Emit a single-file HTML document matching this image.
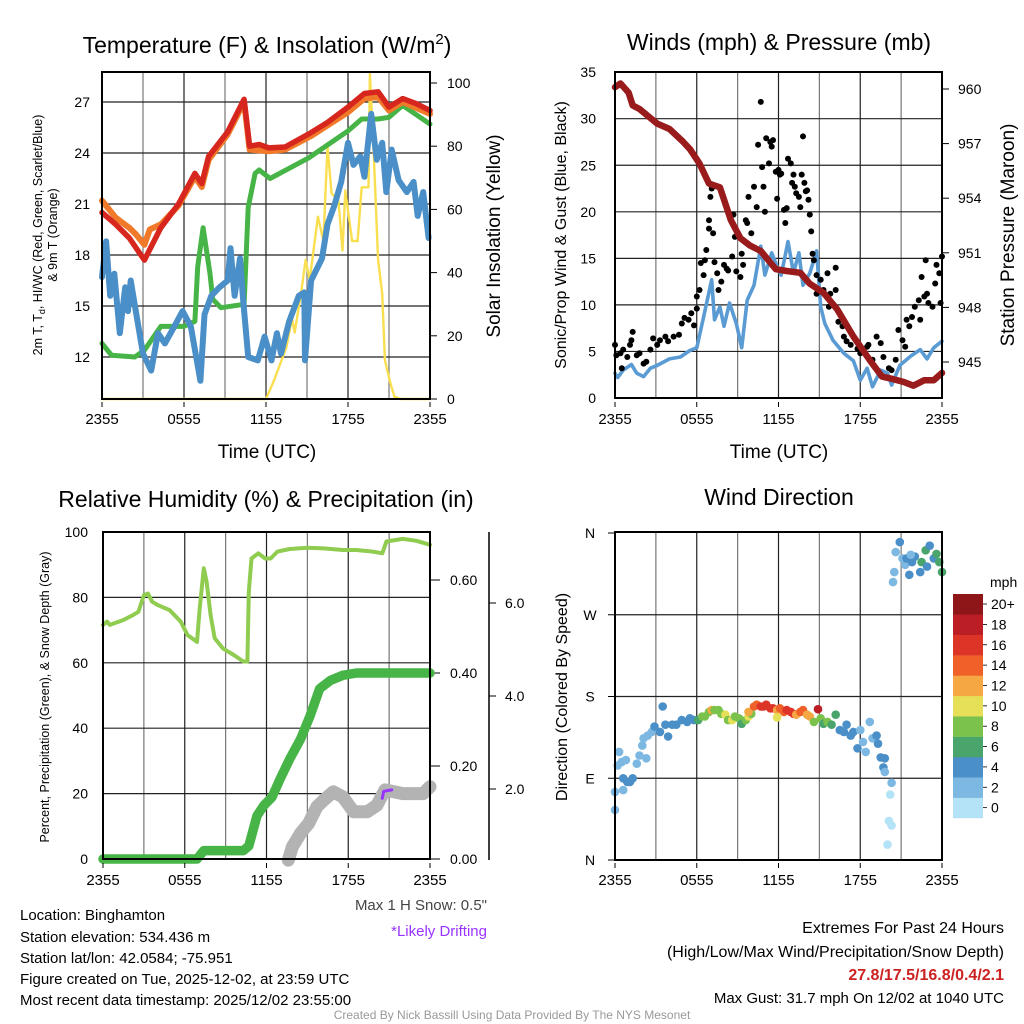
<!DOCTYPE html>
<html><head><meta charset="utf-8"><style>
body{margin:0;background:#fff;}
svg{display:block;font-family:"Liberation Sans",Arial,sans-serif;}
</style></head><body>
<svg id="c" width="1024" height="1024" viewBox="0 0 1024 1024" xmlns="http://www.w3.org/2000/svg"></svg>
<script>
// ---------- Panel 1 data (hours since 2355) ----------
const redH=[0,1,2,3.1,4.3,5.6,6.8,7.3,7.8,9.2,10.4,10.8,11.5,12.2,13.4,15.3,16.5,18,19.2,20.2,21,22,23,24];
const redV=[20.5,19.8,19.0,17.7,19.6,21.0,22.8,22.2,23.8,25.25,27.16,24.4,24.5,24.3,24.35,25.2,25.8,26.7,27.5,27.6,26.7,27.2,26.9,26.5];
const orgH=[0,1,2,2.5,3.1,3.5,4.3,5.6,6.8,7.3,7.8,9.2,10.4,10.8,12.2,13.4,15.3,18,19.2,20.2,21,22,24];
const orgV=[21.2,20.2,19.6,19.2,18.6,19.5,19.8,20.9,22.6,22.0,23.6,25.1,27.0,24.2,24.1,24.2,25.0,26.4,27.2,27.3,26.5,27.0,26.3];
const grnH=[0,0.7,2.4,3.1,4.3,6,6.8,7,7.4,7.9,8.1,8.7,10.4,10.7,11.2,11.5,12.3,15.1,18,19,20.2,21,22,24];
const grnV=[12.8,12.1,12.0,12.4,13.8,13.8,14.1,17.3,19.6,16.9,15.4,14.9,15.1,20.8,22.8,23.0,22.5,23.7,25.3,26.0,26.0,26.1,26.8,25.7];
const bluH=[0,0.3,0.6,0.9,1.3,1.7,1.9,2.1,2.6,3.0,3.6,4.1,4.6,5.3,5.9,6.5,7.2,7.5,8,8.6,9.2,9.4,9.7,10.1,10.3,10.7,11.4,11.9,12.4,12.8,13.1,13.7,14.4,14.8,14.85,15.3,16.1,16.5,17,17.5,18,18.4,18.9,19.2,19.7,20.1,20.5,20.8,21.2,21.7,22.3,22.8,23.1,23.5,23.9];
const bluV=[16.7,18.8,15.6,16.9,13.4,16.1,14.7,16.5,14.1,12.2,11.2,13.4,12.8,13.8,14.7,13.8,10.6,14.5,15.6,16.1,16.5,18.4,15.6,17.8,15.6,12.0,11.8,13.2,11.8,13.4,12.2,14.1,15.6,15.8,11.8,16.5,17.8,19.8,20.9,22.3,24.6,23.3,23.8,22.6,26.3,23.6,24.6,21.7,24.2,22.4,21.7,22.3,20.3,21.7,19.0];
const solH=[0,12,12.6,13.5,13.9,14.1,14.6,14.9,15.2,15.8,16.2,16.5,16.8,17.3,17.6,17.8,18.3,18.7,19,19.5,19.6,19.9,20.2,20.5,20.7,21.1,21.4,21.9,24];
const solV=[0,0,6,16.5,25.6,21,34.5,44,37.7,57.7,50,80,65,63,47,66,50,50,67,67,103,75.6,44,33.5,12.3,5,0.7,0,0];
const tTicks=[12,15,18,21,24,27];
const sTicks=[0,20,40,60,80,100];
const xLabels=["2355","0555","1155","1755","2355"];
// ---------- Panel 2 data ----------
const presH=[0,0.4,1,1.3,1.8,3.1,4,5,5.5,6.2,6.9,7.7,8.5,9.2,9.9,10.7,11.8,12.6,13.6,14.3,15.3,16.3,17.5,18.7,19.6,20.2,21.2,21.9,22.7,23.4,24];
const presV=[960.1,960.3,959.8,959.1,958.9,958.1,957.8,957.1,956.7,955.9,954.8,954.6,952.8,951.8,951.4,951.1,950.1,950,949.9,949.3,948.8,947.9,946.4,945.1,944.2,944.1,943.9,943.7,944.0,944.0,944.4];
const windH=[0,0.2,0.6,1.2,1.6,2.1,2.6,3.1,4,4.8,5.5,6,6.5,7.1,7.3,7.7,8,8.4,8.9,9.3,9.7,10.2,10.7,11,11.5,11.9,12.2,12.7,13.1,13.5,13.8,14.3,14.8,15.1,15.4,16,16.8,17.5,18,18.5,18.9,19.5,20,20.3,20.9,21.7,22.4,22.9,23.4,24];
const windV=[2.65,2.2,3.0,3.6,2.65,2.3,3.2,3.5,4.2,4.4,5.1,5.4,8.7,12.7,8.4,9.8,7.7,10.2,8.0,5.4,10.5,12.1,16.3,13.2,15.6,14.1,13.2,16.8,13.4,15.6,12.1,13.4,15.8,9.8,8.0,6.2,4.8,4.0,1.9,3.2,1.2,3.0,2.65,1.4,3.5,4.5,5.2,4.2,5.4,6.1];
const gustH=[0,0.1,0.4,0.5,0.6,0.9,1.1,1.2,1.3,1.6,1.8,2.1,2.3,2.6,2.8,3.1,3.3,3.7,3.9,4.3,4.7,4.9,5.1,5.4,5.6,5.8,6.0,6.0,6.2,6.3,6.5,6.6,6.7,6.9,6.9,7.0,7.1,7.2,7.3,7.5,7.6,7.8,8.0,8.2,8.3,8.6,8.7,8.8,8.9,9.2,9.3,9.4,9.6,9.7,9.8,10.0,10.2,10.4,10.5,10.7,10.8,10.9,11.0,11.1,11.3,11.4,11.5,11.6,11.8,11.9,12.0,12.1,12.2,12.4,12.5,12.6,12.7,12.9,13.0,13.1,13.2,13.3,13.5,13.6,13.7,13.8,13.9,14.0,14.1,14.2,14.3,14.4,14.5,14.6,14.8,14.8,15.1,15.3,15.6,15.7,15.8,16.2,16.2,16.4,16.7,16.8,17.0,17.3,17.5,17.8,18.0,18.2,18.5,18.6,18.9,19.2,19.5,19.7,20.1,20.3,20.6,20.8,21.1,21.3,21.4,21.6,21.8,22.0,22.3,22.4,22.5,22.7,22.8,22.9,23.0,23.3,23.5,23.6,23.8,23.9,24.0];
const gustV=[5.7,4.6,4.8,3.2,5.2,4.4,5.7,6.2,7.1,4.6,4.8,3.7,3.9,5.2,6.4,5.7,6.2,6.6,6.1,6.6,6.8,8.0,8.6,8.4,9.1,7.8,9.6,10.9,11.6,14.5,13.2,14.8,15.9,18.2,19.1,21.6,22.5,17.7,14.6,13.4,11.6,12.5,14.3,13.9,13.7,15.2,19.7,17.3,13.6,13.0,15.5,14.3,19.1,18.8,21.6,17.7,22.7,20.5,27.2,31.8,24.8,22.7,20.0,27.9,25.2,27.5,27.0,27.7,24.3,21.4,24.5,24.0,24.1,20.2,18.8,20.4,25.7,25.2,23.1,24.0,22.7,22.0,21.6,20.5,24.0,28.1,23.1,22.2,22.3,21.3,19.7,17.9,15.5,14.8,13.2,11.2,12.7,11.6,13.4,9.8,11.2,14.0,11.6,8.2,7.7,6.6,6.1,5.7,6.6,5.3,4.8,5.2,5.5,5.7,4.1,6.6,5.9,4.4,3.2,3.0,4.1,7.3,6.2,5.5,8.4,7.7,8.7,9.8,10.5,8.4,13.0,10.9,14.8,11.2,10.2,9.8,12.3,14.3,13.4,10.2,15.2];
const wTicks=[0,5,10,15,20,25,30,35];
const pTicks=[945,948,951,954,957,960];
// ---------- Panel 3 data ----------
const rhH=[0,0.3,0.5,1.5,2.2,2.6,3.0,3.3,3.6,4.0,4.9,5.7,6.2,6.9,7.1,7.4,7.6,7.9,8.2,8.8,9.6,10.3,10.6,10.7,10.9,11.4,11.9,12.3,12.8,13.7,15.0,16.2,17.6,18.6,19.8,20.5,20.8,22.0,23.0,24];
const rhV=[71.6,72.6,71.6,73.1,74.6,75.6,80.7,81.2,78.7,77.7,76.1,72.6,68.5,66.4,76.6,88.9,84.8,74.6,67.5,64.4,62.4,60.4,60.4,81.7,91.9,93.5,91.9,91.9,94.0,94.8,95.2,95.0,94.5,94.5,94.0,93.5,97.1,97.9,97.3,96.1];
const prH=[0,6.9,7.4,10.3,10.7,11.3,11.8,12.4,13.0,13.7,14.5,15.2,15.9,16.7,17.6,18.6,24];
const prV=[0,0,0.018,0.018,0.028,0.093,0.115,0.133,0.172,0.215,0.258,0.308,0.366,0.384,0.395,0.4,0.4];
const snH=[13.6,13.9,14.5,15.1,15.7,16.2,16.9,17.6,18.4,19.4,20.1,20.7,22.0,23.5,24];
const snV=[0.47,0.76,1.05,1.26,1.62,1.76,1.94,1.83,1.51,1.51,1.65,1.98,1.9,1.9,2.05];
const drH=[20.5,20.6,21.2];
const drV=[1.8,1.95,1.98];
const rhTicks=[0,20,40,60,80,100];
const prTicks=["0.00","0.20","0.40","0.60"];
const snTicks=["2.0","4.0","6.0"];
// ---------- Panel 4 data ----------
const dirH=[0,0,0.2,0.3,0.5,0.6,0.9,1.1,1.3,0.6,0.8,1.6,1.8,2.0,2.1,2.3,2.4,2.7,2.9,3.3,3.5,3.7,3.9,4.2,4.5,4.9,5.3,5.5,5.8,6.1,6.4,6.6,6.9,7.1,7.3,7.6,7.8,8.1,8.3,8.6,8.8,9.1,9.3,9.6,9.8,10.0,9.8,10.2,10.4,10.7,10.9,11.1,11.4,11.6,11.9,11.9,12.1,12.4,12.6,12.9,13.1,13.3,13.6,13.8,14.1,14.3,14.6,14.9,15.1,15.3,15.6,15.9,16.2,16.5,16.8,17.0,17.3,17.5,17.8,18.0,18.2,18.4,18.7,18.9,19.2,19.3,19.5,19.7,19.8,19.8,20.3,20.2,20.1,20.3,20.0,20.4,20.5,20.6,20.9,21.1,21.3,21.6,21.8,22.0,22.4,22.5,22.8,22.9,23.1,23.4,23.6,23.8,24.0,21.4,21.7];
const dirV=[55,75,104,119,108,90,86,86,90,77,110,106,115,126,134,112,137,141,147,141,169,149,136,149,149,154,152,156,154,154,158,158,163,165,165,165,161,160,154,154,158,156,150,154,158,161,163,169,171,169,169,171,167,167,165,157,167,163,165,163,161,160,163,165,160,158,152,166,156,150,152,149,160,143,141,149,137,141,123,143,130,119,152,134,137,128,113,102,97,112,85,72,43,38,17,306,317,339,350,332,325,314,328,334,317,328,341,323,346,332,337,328,317,332,336];
const dirS=[2,2,2,2,2,4,4,4,4,2,2,2,2,2,2,2,2,2,4,4,4,4,4,4,4,4,4,4,4,6,8,8,8,12,8,8,8,10,8,10,8,8,6,8,10,8,12,14,14,16,16,16,16,16,12,10,14,14,16,16,16,12,14,14,12,12,8,18,8,6,8,6,6,4,4,4,4,4,4,2,2,2,2,2,4,4,4,4,2,4,2,0,0,0,0,2,2,2,4,2,2,4,4,4,4,6,6,4,4,4,6,6,6,4,2];
const cbLabels=["0","2","4","6","8","10","12","14","16","18","20+"];
const cbColors=["#b4e2f6","#7db8e2","#4a8fc7","#4aa56d","#7bc24c","#e6df58","#f5a744","#ef6129","#dc3528","#bb1e25","#8e1619"];
const dirLabels=["N","E","S","W","N"];

// ---------- axis functions ----------
const X1=h=>102+h/24*328, YT=t=>102+(27-t)*17, YS=s=>399-s*3.16;
const X2=h=>615+h/24*327, YW=w=>398-w*9.31, YP=p=>89+(960-p)*18.2;
const X3=h=>103+h/24*327, YR=r=>859-r*3.27, YPr=p=>859-p*465, YSn=s=>882-s*46.5;
const YD=d=>860-d*0.9083;
const svg=document.getElementById('c');
const NS='http://www.w3.org/2000/svg';
function el(tag,attrs,parent){const e=document.createElementNS(NS,tag);for(const k in attrs)e.setAttribute(k,attrs[k]);(parent||svg).appendChild(e);return e;}
function txt(s,x,y,size,anchor,extra){const t=el('text',Object.assign({x:x,y:y,'font-size':size,'text-anchor':anchor||'middle',fill:'#000'},extra||{}));t.textContent=s;return t;}
function line(x1,y1,x2,y2,c,w){return el('line',{x1,y1,x2,y2,stroke:c,'stroke-width':w});}
function poly(hs,vs,fx,fy,color,w,name){const pts=hs.map((h,i)=>fx(h).toFixed(1)+','+fy(vs[i]).toFixed(1)).join(' ');const p=el('polyline',{points:pts,fill:'none',stroke:color,'stroke-width':w,'stroke-linejoin':'round','stroke-linecap':'round'});


return p;}
function vgrid(x0,x1,y0,y1){for(let i=1;i<8;i++){const x=x0+(x1-x0)*i/8;line(x,y0,x,y1,i%2?'#777':'#222',1.2);}}
function frame(x0,y0,x1,y1,name){const r=el('rect',{x:x0,y:y0,width:x1-x0,height:y1-y0,fill:'none',stroke:'#000','stroke-width':2});

}
function xlab(fx,y){xLabels.forEach((s,i)=>{const t=txt(s,fx(i*6),y,15);


line(fx(i*6),y-17,fx(i*6),y-22,'#000',1);});}

// ===== Panel 1 =====
vgrid(102,430,72,399);
tTicks.forEach(t=>{line(102,YT(t),430,YT(t),'#222',1.2);const l=txt(String(t),90,YT(t)+5,14,'end');

});
sTicks.forEach(s=>{line(430,YS(s),437,YS(s),'#000',1);const l=txt(String(s),447,YS(s)+5,14,'start');

});
poly(solH,solV,X1,YS,'#f9df4f',2.4,'insolation-line');
poly(grnH,grnV,X1,YT,'#46b446',5,'dewpoint-line');
poly(bluH,bluV,X1,YT,'#4a8fc7',6,'windchill-line');
poly(orgH,orgV,X1,YT,'#f07a2a',6,'9m-temp-line');
poly(redH,redV,X1,YT,'#d7261e',5.5,'2m-temp-line');
frame(102,72,430,399,'temperature-plot-frame');
xlab(X1,424);

// ===== Panel 2 =====
vgrid(615,942,72,398);
wTicks.forEach(w=>{if(w>0&&w<35)line(615,YW(w),942,YW(w),'#222',1.2);const l=txt(String(w),596,YW(w)+5,14,'end');

});
pTicks.forEach(p=>{line(942,YP(p),949,YP(p),'#000',1);const l=txt(String(p),958,YP(p)+5,14,'start');

});
poly(windH,windV,X2,YW,'#5a9bd4',3.6,'sustained-wind-line');
gustH.forEach((h,i)=>{const c=el('circle',{cx:X2(h).toFixed(1),cy:YW(gustV[i]).toFixed(1),r:3,fill:'#000'});

});
poly(presH,presV,X2,YP,'#9a1b1b',6.5,'pressure-line');
frame(615,72,942,398,'wind-plot-frame');
xlab(X2,424);

// ===== Panel 3 =====
vgrid(103,430,532,859);
rhTicks.forEach(r=>{if(r>0&&r<100)line(103,YR(r),430,YR(r),'#222',1.2);const l=txt(String(r),88,YR(r)+5,14,'end');

});
prTicks.forEach(s=>{const y=YPr(parseFloat(s));line(430,y,440,y,'#000',1);const l=txt(s,450,y+5,14,'start');

});
line(489,532,489,860,'#000',1.5);
snTicks.forEach(s=>{const y=YSn(parseFloat(s));line(489,y,496,y,'#000',1);const l=txt(s,505,y+5,14,'start');

});
poly(snH,snV,X3,YSn,'#b3b3b3',13,'snow-depth-line');
poly(drH,drV,X3,YSn,'#9933ff',3,'drifting-snow-line');
poly(prH,prV,X3,YPr,'#46b446',9.5,'precipitation-line');
poly(rhH,rhV,X3,YR,'#8fcc50',4,'relative-humidity-line');
frame(103,532,430,859,'humidity-plot-frame');
xlab(X3,885);

// ===== Panel 4 =====
vgrid(615,942,532,860);
dirLabels.forEach((s,i)=>{const y=YD(i*90);if(i>0&&i<4)line(615,y,942,y,'#222',1.2);line(608,y,615,y,'#000',1);const l=txt(s,590,y+5,14);

});
dirH.forEach((h,i)=>{const c=el('circle',{cx:X2(h).toFixed(1),cy:YD(dirV[i]).toFixed(1),r:4.3,fill:cbColors[Math.min(10,Math.round(dirS[i]/2))]});

});
frame(615,532,942,860,'direction-plot-frame');
xlab(X2,885);
// colorbar
cbColors.forEach((c,i)=>{const y=818-(i+1)*20.36;const r=el('rect',{x:953,y:y.toFixed(1),width:30,height:20.6,fill:c});


line(983,y+10,987,y+10,'#000',0.8);
const l=txt(cbLabels[i],991,y+15,14,'start');

});
</script>
<svg width="1024" height="1024" style="position:absolute;left:0;top:0;font-family:'Liberation Sans',Arial,sans-serif">
<text x="267" y="53" font-size="23" text-anchor="middle">Temperature (F) &amp; Insolation (W/m<tspan dy="-9" font-size="15">2</tspan><tspan dy="9">)</tspan></text>
<text x="779" y="50" font-size="23" text-anchor="middle">Winds (mph) &amp; Pressure (mb)</text>
<text x="266" y="507" font-size="23" text-anchor="middle">Relative Humidity (%) &amp; Precipitation (in)</text>
<text x="779" y="505" font-size="23" text-anchor="middle">Wind Direction</text>
<text x="267" y="458" font-size="19" text-anchor="middle">Time (UTC)</text>
<text x="779" y="458" font-size="19" text-anchor="middle">Time (UTC)</text>
<text transform="translate(42,235) rotate(-90)" font-size="12.5" text-anchor="middle">2m T, T<tspan font-size="9" dy="3">d</tspan><tspan dy="-3">, HI/WC (Red, Green, Scarlet/Blue)</tspan></text>
<text transform="translate(57,235) rotate(-90)" font-size="12.5" text-anchor="middle">&amp; 9m T (Orange)</text>
<text transform="translate(500,236) rotate(-90)" font-size="19" text-anchor="middle">Solar Insolation (Yellow)</text>
<text transform="translate(566,235) rotate(-90)" font-size="16" text-anchor="middle">Sonic/Prop Wind &amp; Gust (Blue, Black)</text>
<text transform="translate(1014,235) rotate(-90)" font-size="19" text-anchor="middle">Station Pressure (Maroon)</text>
<text transform="translate(49,697) rotate(-90)" font-size="12.5" text-anchor="middle">Percent, Precipitation (Green), &amp; Snow Depth (Gray)</text>
<text transform="translate(567,697) rotate(-90)" font-size="16" text-anchor="middle">Direction (Colored By Speed)</text>
<text x="990" y="587" font-size="14">mph</text>
<g font-size="15">
<text x="20" y="920">Location: Binghamton</text>
<text x="20" y="942">Station elevation: 534.436 m</text>
<text x="20" y="963">Station lat/lon: 42.0584; -75.951</text>
<text x="20" y="984">Figure created on Tue, 2025-12-02, at 23:59 UTC</text>
<text x="20" y="1005">Most recent data timestamp: 2025/12/02 23:55:00</text>
</g>
<text x="487" y="910" font-size="15" text-anchor="end" fill="#444">Max 1 H Snow: 0.5"</text>
<text x="487" y="936" font-size="15" text-anchor="end" fill="#9933ff">*Likely Drifting</text>
<g font-size="16" text-anchor="end">
<text x="1004" y="933">Extremes For Past 24 Hours</text>
<text x="1004" y="957">(High/Low/Max Wind/Precipitation/Snow Depth)</text>
<text x="1004" y="980" fill="#cc2222" font-weight="bold">27.8/17.5/16.8/0.4/2.1</text>
<text x="1004" y="1003" font-size="15">Max Gust: 31.7 mph On 12/02 at 1040 UTC</text>
</g>
<text x="512" y="1019" font-size="12" text-anchor="middle" fill="#999">Created By Nick Bassill Using Data Provided By The NYS Mesonet</text>
</svg>
</body></html>
